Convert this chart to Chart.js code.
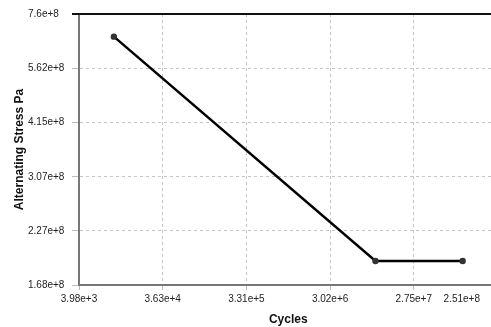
<!DOCTYPE html>
<html>
<head>
<meta charset="utf-8">
<script src="https://cdn.jsdelivr.net/npm/chart.js@4/dist/chart.umd.min.js"></script>
<style>
  html, body { margin: 0; padding: 0; background: #fff; overflow: hidden; }
  #wrap { width: 491px; height: 327px; overflow: hidden; position: relative; }
  canvas { display: block; }
</style>
</head>
<body>
<div id="wrap"><canvas id="c" width="520" height="327"></canvas></div>
<script>
// Data
const cycles = [1e4, 1e7, 1e8];
const stress = [6.7e8, 1.92e8, 1.92e8];

const xTickValues = [3.98e3, 3.63e4, 3.31e5, 3.02e6, 2.75e7, 2.51e8];
const xTickLabels = ['3.98e+3', '3.63e+4', '3.31e+5', '3.02e+6', '2.75e+7', '2.51e+8'];
const yTickValues = [1.68e8, 2.27e8, 3.07e8, 4.15e8, 5.62e8, 7.6e8];
const yTickLabels = ['1.68e+8', '2.27e+8', '3.07e+8', '4.15e+8', '5.62e+8', '7.6e+8'];

const xTitle = 'Cycles';
const yTitle = 'Alternating Stress Pa';

const VISIBLE_W = 491;
const tickFont = { family: 'Liberation Sans', size: 10 };
const tickColor = '#222';
const X_TICK_LEN = 5, X_TICK_PAD = 3;
const LAST = xTickValues.length - 1;

const overflowLabelPlugin = {
  id: 'overflowLabel',
  afterDraw(chart) {
    const xs = chart.scales.x;
    const ctx = chart.ctx;
    ctx.save();
    ctx.font = tickFont.size + 'px "' + tickFont.family + '"';
    ctx.fillStyle = tickColor;
    ctx.textAlign = 'center';
    ctx.textBaseline = 'middle';
    const y = xs.top + X_TICK_LEN + X_TICK_PAD + tickFont.size * 1.2 / 2;
    const px = xs.getPixelForValue(xTickValues[LAST]);
    const w = ctx.measureText(xTickLabels[LAST]).width;
    ctx.fillText(xTickLabels[LAST], Math.min(px, VISIBLE_W - 11 - w / 2), y);
    // top border of plot
    const a = chart.chartArea;
    ctx.strokeStyle = '#111';
    ctx.lineWidth = 2;
    ctx.beginPath();
    ctx.moveTo(a.left - 7, a.top);
    ctx.lineTo(chart.width, a.top);
    ctx.stroke();
    ctx.restore();
  }
};

new Chart(document.getElementById('c'), {
  type: 'line',
  data: {
    datasets: [{
      data: cycles.map((c, i) => ({ x: c, y: stress[i] })),
      borderColor: '#000',
      borderWidth: 2.5,
      pointRadius: 3.2,
      pointBackgroundColor: '#333',
      pointBorderColor: '#333',
      pointBorderWidth: 0,
      tension: 0,
      fill: false,
      clip: false
    }]
  },
  options: {
    responsive: false,
    animation: false,
    devicePixelRatio: 1,
    layout: { padding: { left: 28, top: 14, right: 22.5, bottom: 0 } },
    plugins: { legend: { display: false }, tooltip: { enabled: false } },
    scales: {
      x: {
        type: 'logarithmic',
        min: xTickValues[0],
        max: xTickValues[LAST],
        afterBuildTicks(scale) { scale.ticks = xTickValues.map(v => ({ value: v })); },
        afterFit(scale) { scale.height = 42; },
        ticks: {
          autoSkip: false,
          maxRotation: 0,
          font: tickFont,
          color: tickColor,
          padding: X_TICK_PAD,
          callback(value, index) { return index === LAST ? '' : xTickLabels[index]; }
        },
        grid: {
          color: '#c4c4c4',
          lineWidth: 1,
          drawTicks: true,
          tickLength: X_TICK_LEN,
          tickColor: '#bbb',
          tickWidth: 1
        },
        border: { display: true, color: '#777', width: 2, dash: [3, 3] },
        title: {
          display: true,
          text: xTitle,
          font: { family: 'Liberation Sans', size: 12, weight: 'bold' },
          color: '#111',
          padding: { top: 0, bottom: 0 }
        }
      },
      y: {
        type: 'logarithmic',
        min: yTickValues[0],
        max: yTickValues[yTickValues.length - 1],
        afterBuildTicks(scale) { scale.ticks = yTickValues.map(v => ({ value: v })); },
        afterFit(scale) { scale.width = 51; },
        ticks: {
          autoSkip: false,
          font: tickFont,
          color: tickColor,
          padding: 8,
          crossAlign: 'far',
          callback(value, index) { return yTickLabels[index]; }
        },
        grid: {
          color: '#c4c4c4',
          lineWidth: 1,
          drawTicks: true,
          tickLength: 7,
          tickColor: '#bbb',
          tickWidth: 1
        },
        border: { display: true, color: '#777', width: 2, dash: [3, 3] },
        title: {
          display: true,
          text: yTitle,
          font: { family: 'Liberation Sans', size: 12, weight: 'bold' },
          color: '#111',
          padding: { top: -15.2, bottom: 0 }
        }
      }
    }
  },
  plugins: [overflowLabelPlugin]
});
</script>
</body>
</html>
